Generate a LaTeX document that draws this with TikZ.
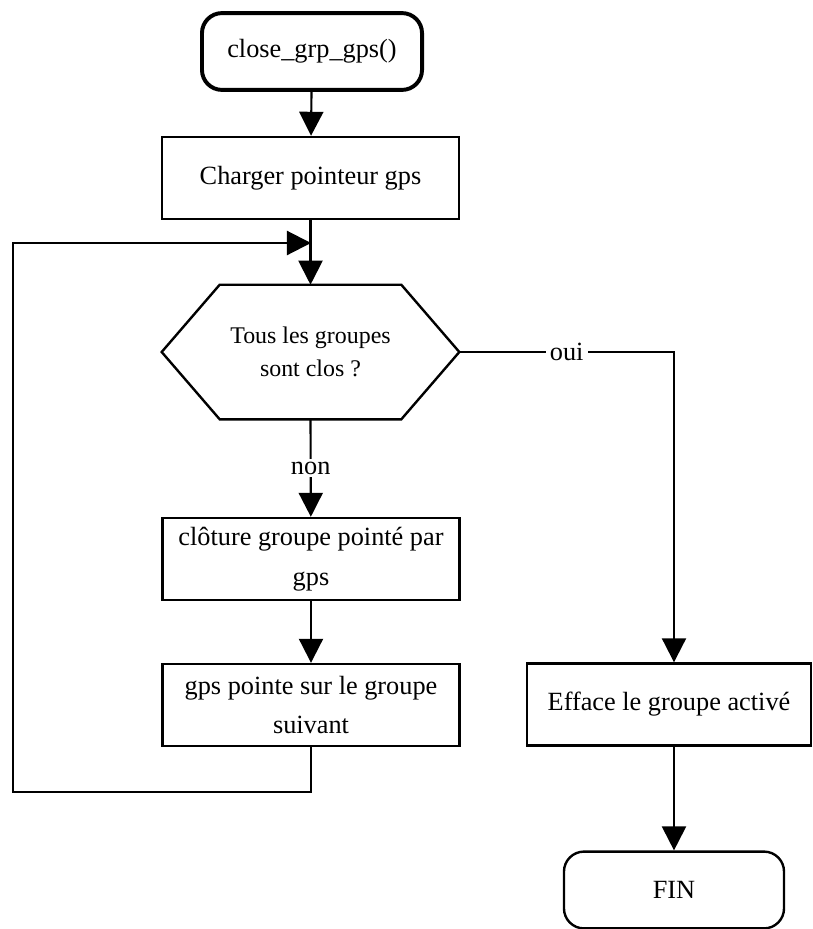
\documentclass[tikz,border=0pt]{standalone}
\usepackage{fontspec}
\setmainfont{Liberation Serif}
\usetikzlibrary{arrows.meta,calc}

\begin{document}
\begin{tikzpicture}[x=0.025cm, y=-0.025cm, >={Triangle[length=0.6cm,width=0.6cm]},
  boite/.style={draw, line width=1.7pt, minimum height=2.05cm, align=center, inner sep=0pt,
    font=\fontsize{18.7}{28}\selectfont},
  terminal/.style={draw, rounded corners=0.5cm, minimum width=5.5cm, minimum height=1.92cm,
    inner sep=0pt, font=\fontsize{18.7}{28}\selectfont},
  fleche/.style={->, line width=1.5pt}]
  \useasboundingbox (0,0) rectangle (812,929);

  % boites de la colonne principale
  \node[terminal, line width=2.8pt] (debut) at (312,51.5) {close\_grp\_gps()};
  \node[boite, minimum width=7.425cm] (charger) at (310.5,178) {Charger pointeur gps};
  \node[minimum width=7.425cm, minimum height=3.35cm, align=center, inner sep=0pt,
    font=\fontsize{17}{23}\selectfont] (test) at (310.5,352) {Tous les groupes\\sont clos ?};
  \draw[line width=1.7pt] (test.west) -- ([xshift=1.45cm]test.north west)
    -- ([xshift=-1.45cm]test.north east) -- (test.east)
    -- ([xshift=-1.45cm]test.south east) -- ([xshift=1.45cm]test.south west) -- cycle;
  \node[boite, minimum width=7.425cm] (cloture) at (311,559) {cl\^oture groupe point\'e par\\gps};
  \node[boite, minimum width=7.425cm] (suivant) at (311,705) {gps pointe sur le groupe\\suivant};

  % branche oui
  \node[boite, minimum width=7.1cm] (efface) at (669,704.5) {Efface le groupe activ\'e};
  \node[terminal, line width=1.7pt] (fin) at (674,890) {FIN};

  \coordinate (boucle) at (311,243);

  % liaisons
  \draw[fleche] (debut) -- (charger);
  \draw[fleche] (charger) -- (test.north);
  \draw[fleche] (test.south) -- node[fill=white, inner sep=2pt, font=\fontsize{18.7}{28}\selectfont] {non} (cloture);
  \draw[fleche] (cloture) -- (suivant);
  \draw[fleche] (suivant.south) |- (13,792) |- (boucle);
  \draw[fleche] (test.east) -- node[fill=white, inner sep=3pt, font=\fontsize{18.7}{28}\selectfont] {oui}
    (test.east -| fin.north) -- (efface.north -| fin.north);
  \draw[fleche] (efface.south -| fin.north) -- (fin.north);
\end{tikzpicture}
\end{document}
